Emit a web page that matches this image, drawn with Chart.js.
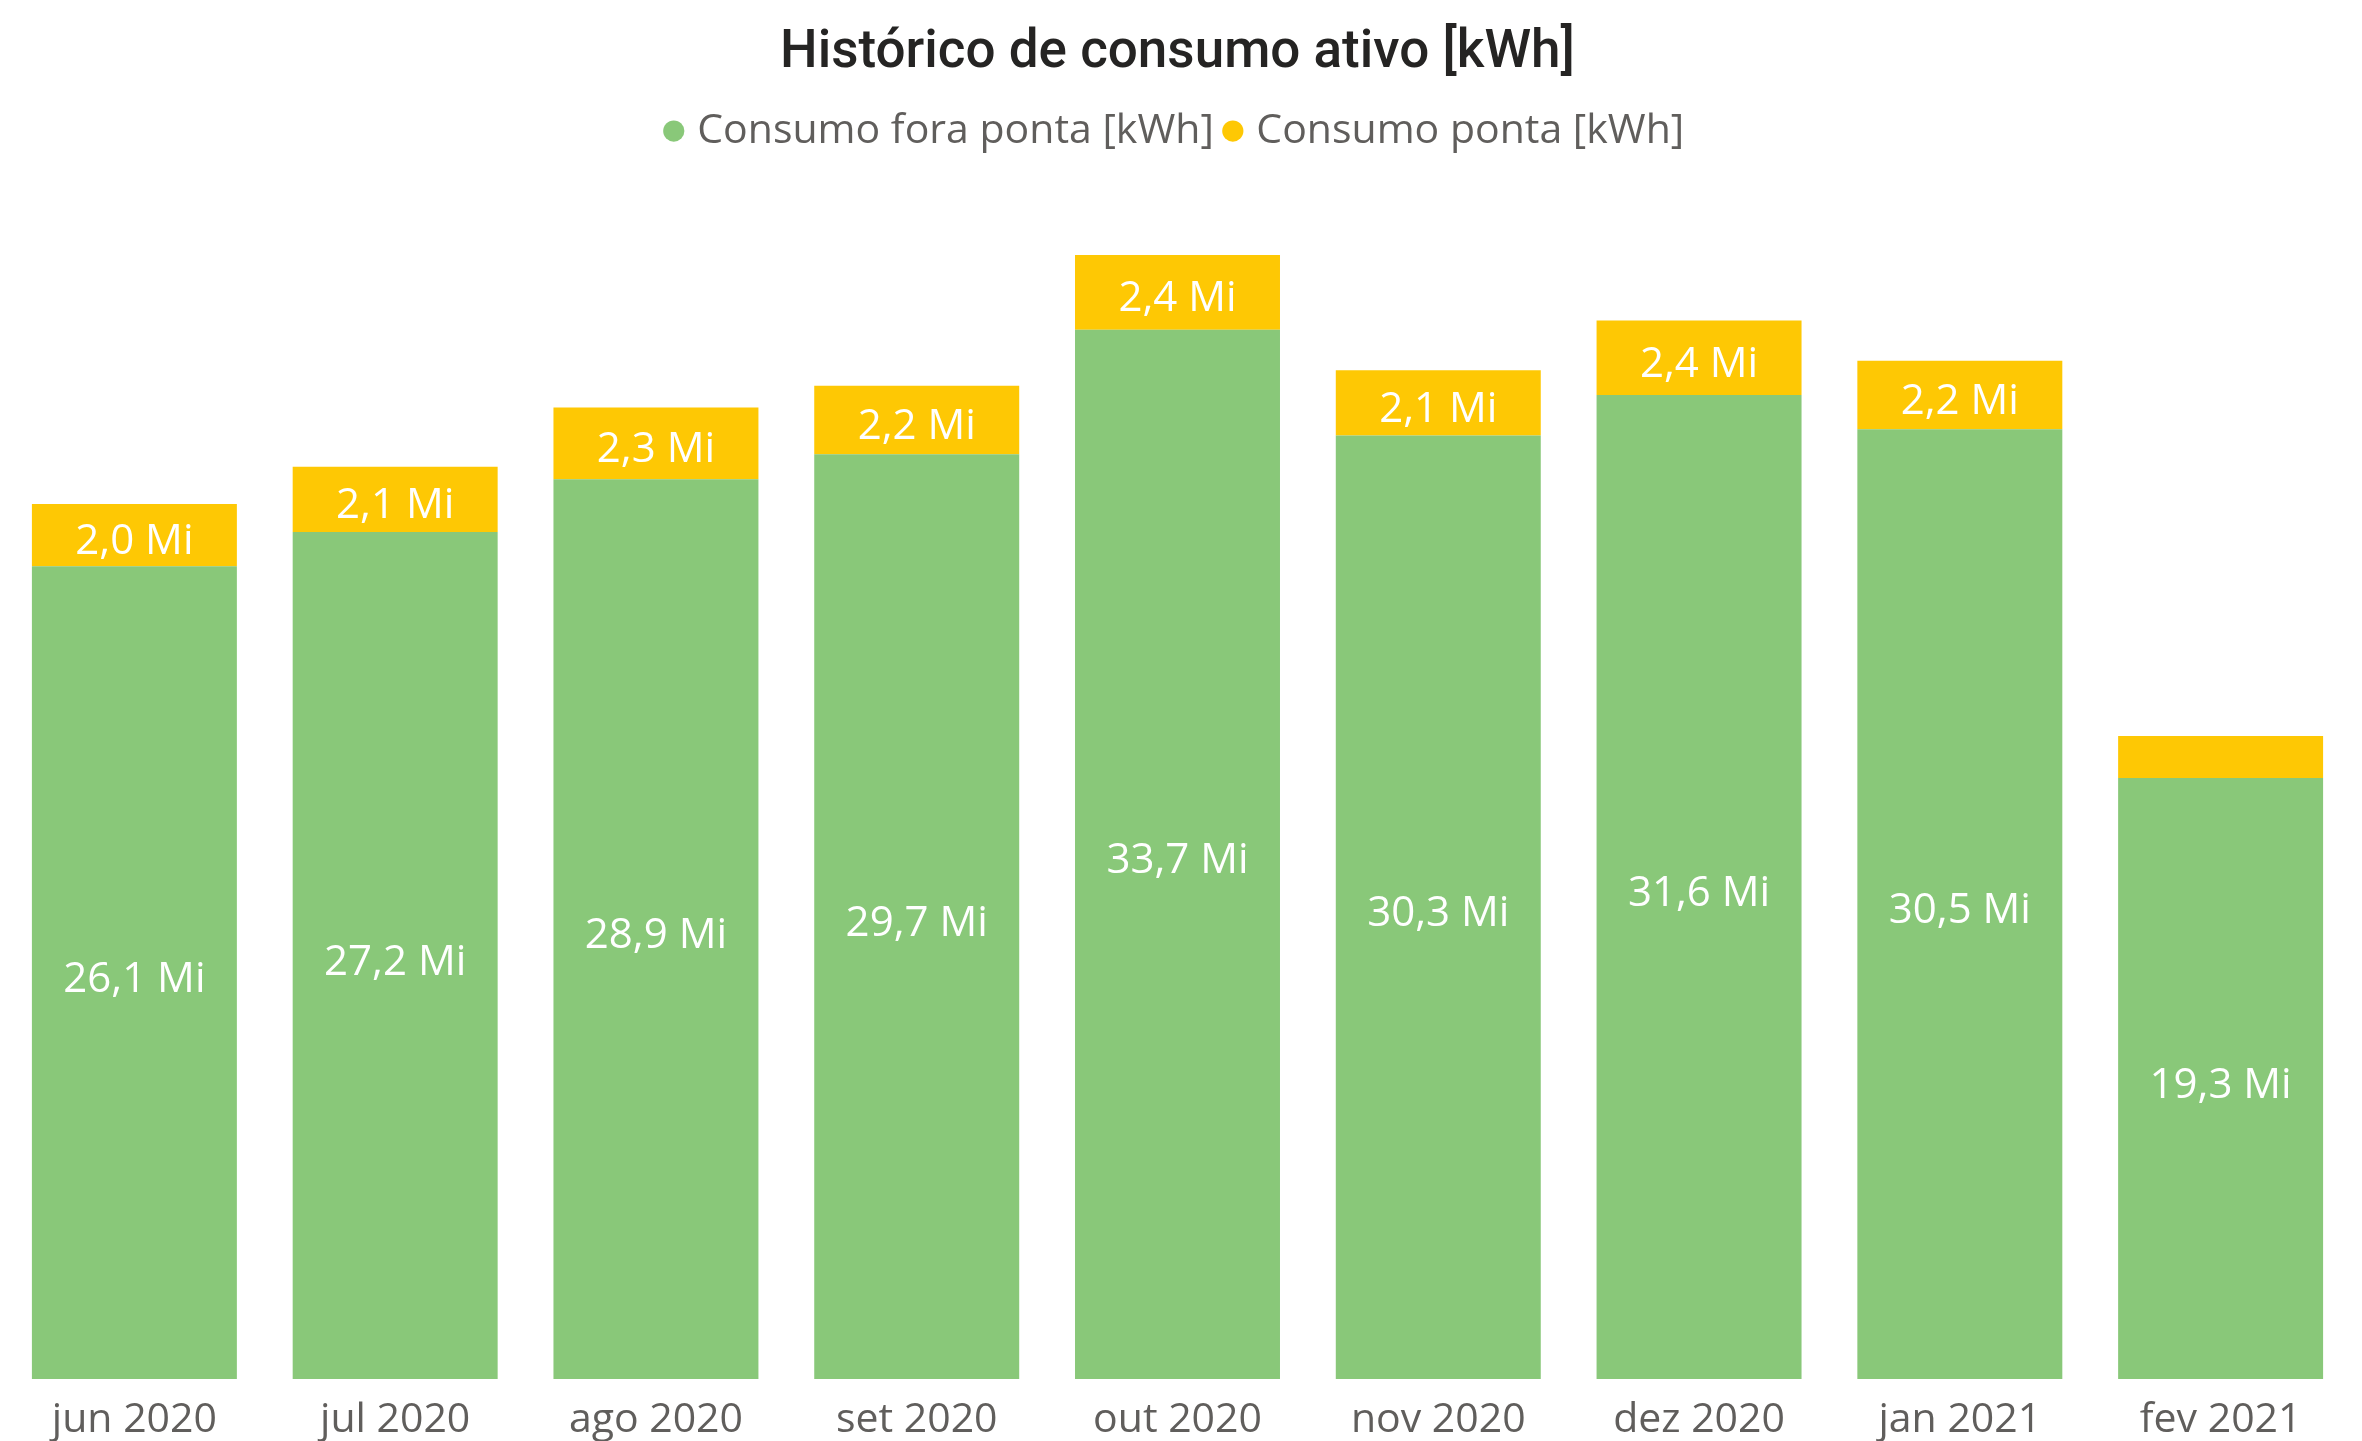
<!DOCTYPE html>
<html lang="pt">
<head>
<meta charset="utf-8">
<title>Histórico de consumo ativo</title>
<script src="https://cdn.jsdelivr.net/npm/chart.js@4.4.1/dist/chart.umd.min.js"></script>
<style>
  html, body { margin: 0; padding: 0; background: #fff; }
  #caixa { width: 2362px; height: 1441px; position: relative; }
</style>
</head>
<body>
<div id="caixa"><canvas id="graficoConsumo"></canvas></div>
<script>
const meses = ['jun 2020', 'jul 2020', 'ago 2020', 'set 2020', 'out 2020', 'nov 2020', 'dez 2020', 'jan 2021', 'fev 2021'];
const consumoForaPonta = [26.1, 27.2, 28.9, 29.7, 33.7, 30.3, 31.6, 30.5, 19.3];
const consumoPonta = [2.0, 2.1, 2.3, 2.2, 2.4, 2.1, 2.4, 2.2, 1.35];

const corVerde = '#89C879';
const corAmarela = '#FEC804';
const fonteTexto = "'Open Sans', 'Noto Sans', sans-serif";

function formatarMi(valor) {
    return valor.toFixed(1).replace('.', ',') + ' Mi';
}

// rótulos brancos dentro de cada segmento (some quando não cabe)
const rotulosDentro = {
    id: 'rotulosDentro',
    afterDatasetsDraw(chart) {
        const ctx = chart.ctx;
        ctx.save();
        ctx.fillStyle = '#ffffff';
        ctx.font = '42px ' + fonteTexto;
        ctx.textAlign = 'center';
        ctx.textBaseline = 'middle';
        chart.data.datasets.forEach((ds, i) => {
            const meta = chart.getDatasetMeta(i);
            meta.data.forEach((barra, j) => {
                const altura = Math.abs(barra.base - barra.y);
                if (altura < 50) return;
                const yMeio = (barra.y + barra.base) / 2;
                ctx.fillText(formatarMi(ds.data[j]), barra.x, yMeio + 7);
            });
        });
        ctx.restore();
    }
};

new Chart(document.getElementById('graficoConsumo'), {
    type: 'bar',
    data: {
        labels: meses,
        datasets: [
            {
                label: 'Consumo fora ponta [kWh]',
                data: consumoForaPonta,
                backgroundColor: corVerde,
                borderWidth: 0,
                categoryPercentage: 1,
                barPercentage: 0.786
            },
            {
                label: 'Consumo ponta [kWh]',
                data: consumoPonta,
                backgroundColor: corAmarela,
                borderWidth: 0,
                categoryPercentage: 1,
                barPercentage: 0.786
            }
        ]
    },
    options: {
        responsive: true,
        maintainAspectRatio: false,
        animation: false,
        layout: {
            padding: { left: 4, right: 11, top: 0, bottom: -21 }
        },
        scales: {
            x: {
                stacked: true,
                grid: { display: false, drawTicks: false, tickLength: 0 },
                border: { display: false },
                ticks: {
                    color: '#605E5C',
                    padding: 21,
                    font: { family: fonteTexto, size: 41, lineHeight: 1 }
                }
            },
            y: {
                stacked: true,
                display: false,
                min: 0,
                max: 39.1
            }
        },
        plugins: {
            title: {
                display: true,
                text: 'Histórico de consumo ativo [kWh]',
                color: '#252423',
                font: { family: "Roboto, sans-serif", size: 53, weight: '500' },
                padding: { top: 22, bottom: 9 }
            },
            legend: {
                position: 'top',
                labels: {
                    color: '#605E5C',
                    usePointStyle: true,
                    pointStyle: 'circle',
                    boxWidth: 6,
                    boxHeight: 15,
                    padding: 16,
                    font: { family: fonteTexto, size: 41 }
                }
            },
            tooltip: { enabled: false }
        }
    },
    plugins: [rotulosDentro]
});
</script>
</body>
</html>
